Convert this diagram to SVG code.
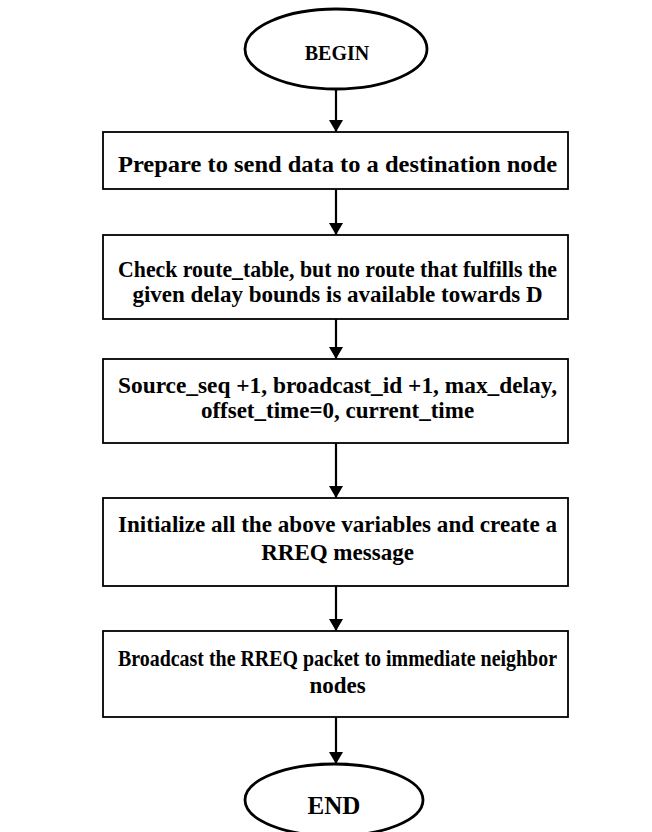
<svg xmlns="http://www.w3.org/2000/svg" width="652" height="832" viewBox="0 0 652 832">
<style>
text{font-family:"Liberation Serif","Times New Roman",Tinos,serif;font-weight:bold;font-size:23px;fill:#000;text-anchor:middle}
.box{fill:#fff;stroke:#000;stroke-width:1.8}
.ell{fill:#fff;stroke:#000;stroke-width:2.8}
.c{stroke:#000;stroke-width:2.2;fill:none}
</style>
<defs>
<marker id="ah" markerWidth="12" markerHeight="14" refX="12" refY="7" orient="auto" markerUnits="userSpaceOnUse" viewBox="0 0 12 14">
<path d="M0,0 L12,7 L0,14 Z" fill="#000"/>
</marker>
</defs>
<g id="connectors">
<line class="c" x1="336" y1="90" x2="336" y2="132" marker-end="url(#ah)"/>
<line class="c" x1="336" y1="189" x2="336" y2="235" marker-end="url(#ah)"/>
<line class="c" x1="336" y1="319" x2="336" y2="359" marker-end="url(#ah)"/>
<line class="c" x1="336" y1="443" x2="336" y2="498" marker-end="url(#ah)"/>
<line class="c" x1="336" y1="586" x2="336" y2="631" marker-end="url(#ah)"/>
<line class="c" x1="336" y1="717" x2="336" y2="764" marker-end="url(#ah)"/>
</g>
<g id="begin">
<ellipse class="ell" cx="336" cy="49" rx="91" ry="40"/>
<text x="337" y="60" style="font-size:20px">BEGIN</text>
</g>
<g id="prepare">
<rect class="box" x="103" y="132" width="465" height="57"/>
<text x="337.5" y="172" textLength="439" lengthAdjust="spacingAndGlyphs">Prepare to send data to a destination node</text>
</g>
<g id="check">
<rect class="box" x="103" y="235" width="465" height="84"/>
<text x="337.5" y="277" textLength="439" lengthAdjust="spacingAndGlyphs">Check route_table, but no route that fulfills the</text>
<text x="337.5" y="302">given delay bounds is available towards D</text>
</g>
<g id="source">
<rect class="box" x="103" y="359" width="465" height="84"/>
<text x="337.5" y="393" textLength="439" lengthAdjust="spacingAndGlyphs">Source_seq +1, broadcast_id +1, max_delay,</text>
<text x="337.5" y="418">offset_time=0, current_time</text>
</g>
<g id="init">
<rect class="box" x="103" y="498" width="465" height="88"/>
<text x="337.5" y="532" textLength="439" lengthAdjust="spacingAndGlyphs">Initialize all the above variables and create a</text>
<text x="337.5" y="560">RREQ message</text>
</g>
<g id="broadcast">
<rect class="box" x="103" y="631" width="465" height="86"/>
<text x="337.5" y="666" textLength="439" lengthAdjust="spacingAndGlyphs">Broadcast the RREQ packet to immediate neighbor</text>
<text x="337.5" y="693">nodes</text>
</g>
<g id="end">
<ellipse class="ell" cx="334" cy="800" rx="89" ry="36"/>
<text x="334" y="814" style="font-size:25px">END</text>
</g>
</svg>
